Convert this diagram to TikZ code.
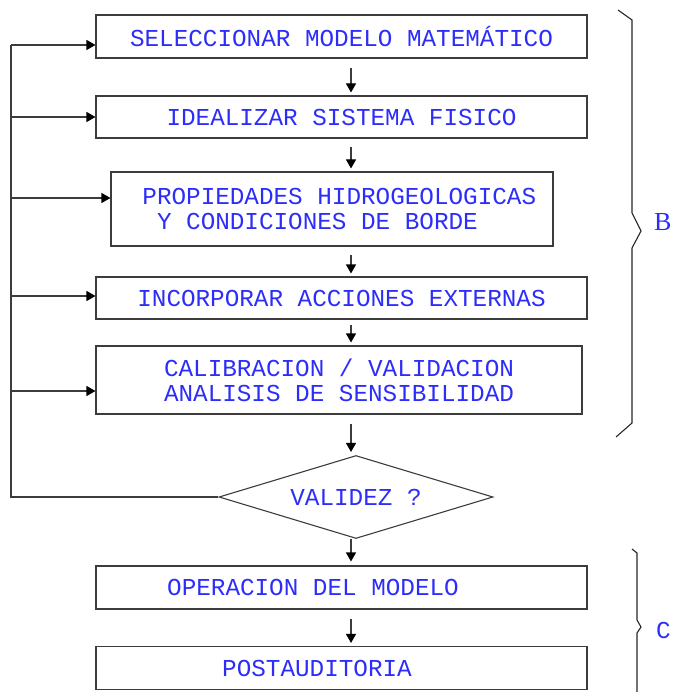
\documentclass[tikz,border=0pt]{standalone}
\usepackage{fontspec}
\setmonofont{Liberation Mono}
\newfontfamily\bracefont{Liberation Serif}
\usetikzlibrary{shapes.geometric,arrows.meta,calc}
\definecolor{cadblue}{RGB}{45,45,250}
\definecolor{cadgray}{RGB}{60,60,60}

\begin{document}
\begin{tikzpicture}[x=1pt,y=-1pt,
		txt/.style={font=\ttfamily\fontsize{24.3}{25}\selectfont, text=cadblue},
		box/.style={txt, draw=cadgray, line width=1.1pt, inner sep=0pt, minimum width=491pt, minimum height=43pt},
		flow/.style={cadgray, line width=1.1pt, -{Triangle[length=9pt,width=10pt,color=black]}},
		rail/.style={cadgray, line width=1.1pt},
		brace/.style={black!85, line width=1.1pt}]
		\useasboundingbox (0,0) rectangle (672,692);
		% process boxes
		\node[box] (sel) at (341.5,36.5) {SELECCIONAR MODELO MATEMÁTICO};
		\node[box, minimum height=42pt] (ideal) at (341.5,117) {IDEALIZAR SISTEMA FISICO};
		\node[box, minimum width=442pt, minimum height=74pt, align=left] (prop) at (332,209)
			{\hphantom{.}PROPIEDADES HIDROGEOLOGICAS\\\hphantom{.}\hphantom{Y}Y CONDICIONES DE BORDE};
		\node[box, minimum height=42pt] (inc) at (341.5,298) {INCORPORAR ACCIONES EXTERNAS};
		\node[box, minimum width=486pt, minimum height=68pt, align=left] (cal) at (339,380)
			{CALIBRACION / VALIDACION\\ANALISIS DE SENSIBILIDAD};
		\node[diamond, txt, draw=cadgray, line width=1.1pt, inner sep=0pt, aspect=3.3,
			minimum width=274pt, minimum height=83pt] (val) at (356,497) {VALIDEZ ?};
		\node[box] (op) at (341.5,587.5) {OPERACION DEL MODELO\hspace*{57pt}};
		\node[box] (post) at (341.5,668) {POSTAUDITORIA\hspace*{49pt}};
		% main flow
		\coordinate (axis) at (351,0);
		\foreach \a/\b/\s in {sel/ideal/9, ideal/prop/8, prop/inc/8, inc/cal/5, cal/val/9, op/post/9}
			\draw[flow] ($(\a.south -| axis)+(0,\s)$) -- ($(\b.north -| axis)+(0,-3)$);
		\draw[flow] (val.south -| axis) -- ($(op.north -| axis)+(0,-4)$);
		% feedback rail
		\coordinate (r1) at (11,45);
		\coordinate (r2) at (11,117);
		\coordinate (r3) at (11,198);
		\coordinate (r4) at (11,296);
		\coordinate (r5) at (11,391);
		\draw[rail] (val.west) -- (val.west -| r1) -- (r1);
		\foreach \c/\n in {r1/sel, r2/ideal, r3/prop, r4/inc, r5/cal}
			\draw[flow] (\c) -- (\c -| \n.west);
		% braces
		\draw[brace] (618,10) -- (632,20) -- (632,213) -- (641,231) -- (632,248) -- (632,423) -- (616,437);
		\node[text=cadblue, font=\bracefont\fontsize{26}{26}\selectfont, anchor=west, inner sep=0pt] (lblB) at (654,222) {B};
		\draw[brace] (632,549) -- (637,553) -- (637,620) -- (641,627) -- (637,633) -- (637,692);
		\node[txt, anchor=west, inner sep=0pt] (lblC) at (656,630) {C};
\end{tikzpicture}
\end{document}
